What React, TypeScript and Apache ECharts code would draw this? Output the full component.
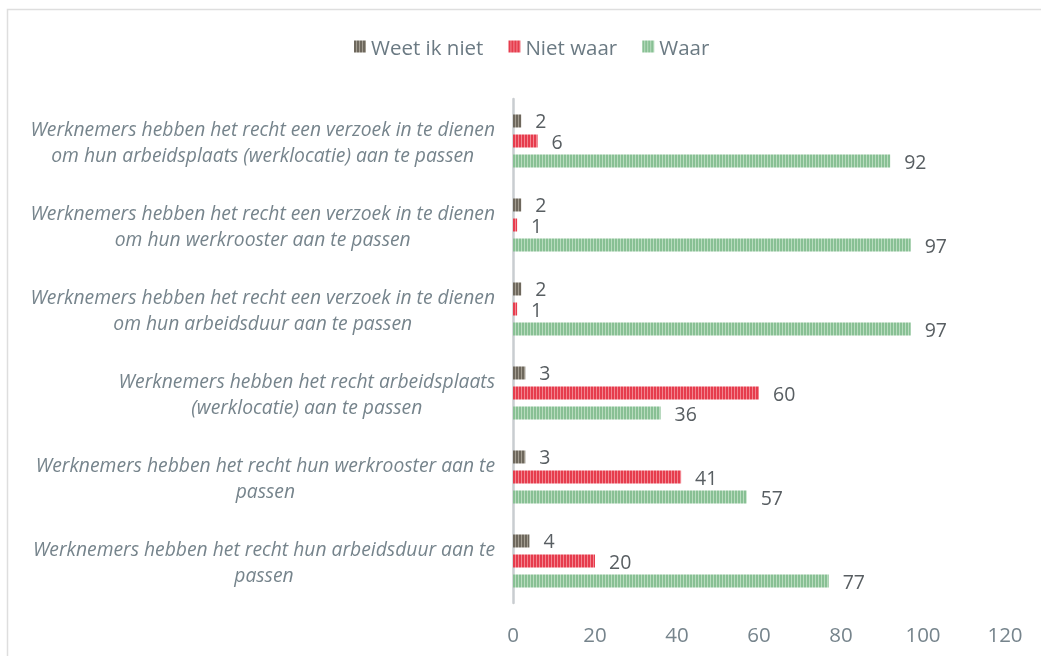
import React, { useEffect, useRef } from "react";
import * as echarts from "echarts";

const categories: string[][] = [
  ["Werknemers hebben het recht een verzoek in te dienen", "om hun arbeidsplaats (werklocatie) aan te passen"],
  ["Werknemers hebben het recht een verzoek in te dienen", "om hun werkrooster aan te passen"],
  ["Werknemers hebben het recht een verzoek in te dienen", "om hun arbeidsduur aan te passen"],
  ["Werknemers hebben het recht arbeidsplaats", "(werklocatie) aan te passen"],
  ["Werknemers hebben het recht hun werkrooster aan te", "passen"],
  ["Werknemers hebben het recht hun arbeidsduur aan te", "passen"],
];
const seriesNames = ["Weet ik niet", "Niet waar", "Waar"];
const weetIkNiet = [2, 2, 2, 3, 3, 4];
const nietWaar = [6, 1, 1, 60, 41, 20];
const waar = [92, 97, 97, 36, 57, 77];
const xTicks = [0, 20, 40, 60, 80, 100, 120];

function makePattern(base: string, stripe: string) {
  const c = document.createElement("canvas");
  c.width = 3;
  c.height = 4;
  const ctx = c.getContext("2d")!;
  ctx.fillStyle = base;
  ctx.fillRect(0, 0, 3, 4);
  ctx.fillStyle = stripe;
  ctx.fillRect(2, 0, 1, 4);
  return { image: c, repeat: "repeat" } as any;
}

export default function App() {
  const ref = useRef<HTMLDivElement>(null);
  useEffect(() => {
    document.body.style.margin = "0";
    const chart = echarts.init(ref.current!, null, { renderer: "svg" });
    const font = "Open Sans";
    const patterns = [
      makePattern("#6e685d", "#a39d91"),
      makePattern("#e63c4d", "#f28590"),
      makePattern("#88c094", "#b9dcbf"),
    ];
    const values = [weetIkNiet, nietWaar, waar];
    chart.setOption({
      animation: false,
      textStyle: { fontFamily: font },
      graphic: [
        {
          type: "rect",
          shape: { x: 7.5, y: 9.5, width: 1200, height: 800 },
          style: { fill: "none", stroke: "#dedede", lineWidth: 1.5 },
          silent: true,
        },
      ],
      legend: {
        top: 31,
        left: 349,
        icon: "rect",
        itemWidth: 12,
        itemHeight: 12,
        itemGap: 25,
        data: seriesNames,
        textStyle: { fontFamily: font, fontSize: 20.5, color: "#6b7a83" },
      },
      grid: { left: 513, right: 36, top: 99, bottom: 53, containLabel: false },
      xAxis: {
        type: "value",
        min: 0,
        max: 120,
        interval: 20,
        axisLine: { show: false },
        axisTick: { show: false },
        splitLine: { show: false },
        axisLabel: {
          fontFamily: font,
          fontSize: 20.5,
          color: "#76848c",
          margin: 20,
          formatter: (v: number) => (xTicks.includes(v) ? String(v) : ""),
        },
      },
      yAxis: {
        type: "category",
        inverse: true,
        data: categories.map((l) => l.join("\n")),
        axisLine: { show: true, lineStyle: { color: "#c9cdd0", width: 2.5 } },
        axisTick: { show: false },
        axisLabel: {
          align: "right",
          margin: 18,
          formatter: (v: string) =>
            v
              .split("\n")
              .map((l) => `{c|${l}}`)
              .join("\n"),
          rich: {
            c: {
              align: "center",
              fontFamily: font,
              fontStyle: "italic",
              fontSize: 19.3,
              lineHeight: 26,
              color: "#76848c",
            },
          },
        },
      },
      series: seriesNames.map((name, i) => ({
        name,
        type: "bar",
        data: values[i],
        barWidth: 13,
        barGap: "54%",
        itemStyle: { color: patterns[i] },
        label: {
          show: true,
          position: "right",
          distance: 14,
          fontFamily: font,
          fontSize: 19.5,
          lineHeight: 18,
          color: "#585e62",
        },
      })),
    });
    return () => chart.dispose();
  }, []);
  return (
    <div
      ref={ref}
      style={{ position: "fixed", left: 0, top: 0, width: 1041, height: 656 }}
    />
  );
}
